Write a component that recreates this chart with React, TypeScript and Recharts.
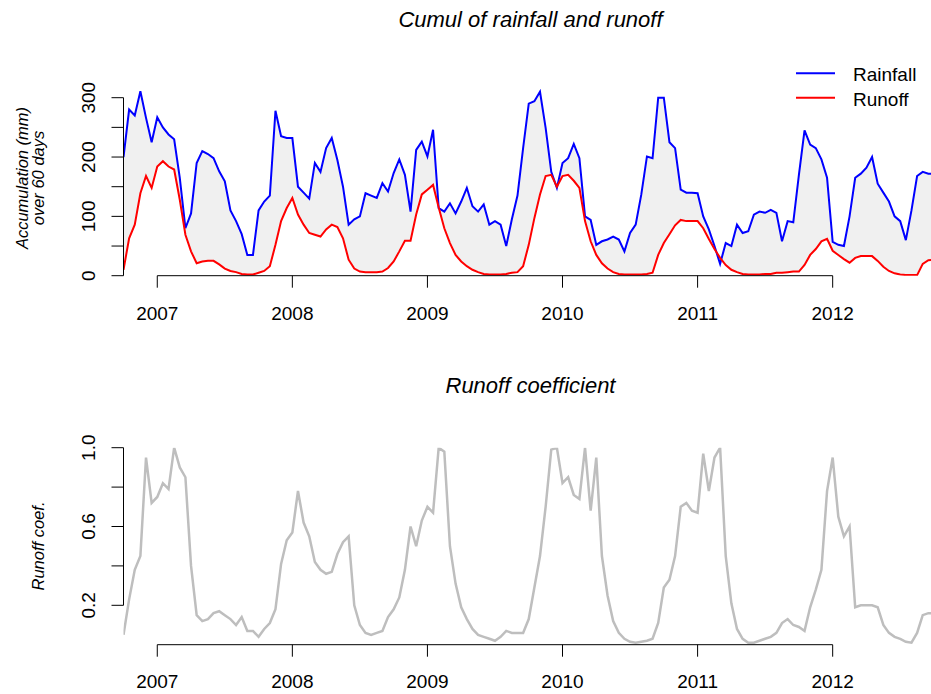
import React from 'react';
import { ComposedChart, LineChart, Line, Area, XAxis, YAxis, ReferenceLine } from 'recharts';

// ---- time grid (half-month steps starting Oct 2006) ----
const START_YEAR = 2006.75;
const STEPS_PER_YEAR = 24;
const X_DOMAIN: [number, number] = [2006.75, 2012.776];

// ---- tick labels ----
const yearTicks = [2007, 2008, 2009, 2010, 2011, 2012];
const accumTicks = [0, 50, 100, 150, 200, 250, 300];
const accumLabels = [0, 100, 200, 300];
const coefTicks = [0.2, 0.4, 0.6, 0.8, 1.0];
const coefLabels = [0.2, 0.6, 1.0];

// ---- series: 60-day accumulation (mm) ----
const rainfall = [
  200, 280, 270, 311, 266, 225, 267, 250, 238, 230,
  165, 80, 105, 190, 210, 205, 198, 176, 159, 110,
  92, 70, 35, 35, 110, 125, 135, 278, 235, 232,
  232, 150, 140, 130, 190, 175, 215, 232, 195, 150,
  86, 95, 100, 139, 135, 131, 156, 142, 173, 196,
  170, 108, 212, 226, 201, 246, 114, 108, 122, 105,
  125, 148, 117, 108, 120, 86, 92, 86, 50, 95,
  135, 215, 290, 294, 310, 249, 175, 148, 190, 198,
  222, 198, 100, 94, 52, 58, 61, 66, 61, 41,
  72, 86, 137, 201, 198, 300, 300, 225, 215, 145,
  140, 140, 139, 100, 78, 50, 20, 55, 50, 86,
  72, 75, 103, 108, 106, 111, 106, 58, 92, 90,
  170, 245, 221, 215, 196, 165, 57, 52, 50, 100,
  165, 172, 182, 200, 155, 140, 125, 100, 92, 60,
  110, 168, 175, 172, 172,
];

const runoff = [
  10, 63, 86, 139, 168, 148, 184, 193, 184, 179,
  128, 69, 41, 21, 24, 25, 25, 19, 12, 8,
  6, 3, 2, 2, 5, 8, 16, 52, 92, 114,
  131, 103, 86, 72, 69, 66, 78, 86, 82, 63,
  27, 12, 7, 6, 6, 6, 7, 13, 24, 41,
  59, 59, 103, 137, 145, 153, 115, 80, 55, 35,
  24, 16, 10, 6, 3, 2, 2, 2, 3, 5,
  6, 16, 52, 97, 137, 168, 170, 150, 168, 170,
  160, 148, 92, 58, 35, 21, 12, 6, 3, 2,
  2, 2, 2, 3, 5, 35, 55, 70, 85, 94,
  92, 92, 92, 80, 62, 45, 30, 18, 10, 6,
  3, 2, 2, 2, 3, 3, 5, 5, 6, 7,
  7, 18, 35, 45, 58, 62, 42, 35, 28, 22,
  30, 33, 33, 33, 25, 15, 8, 4, 2, 1,
  1, 1, 20, 26, 27,
];

// ---- series: runoff coefficient ----
const runoffCoef = [
  0.05, 0.23, 0.38, 0.45, 0.95, 0.72, 0.75, 0.82, 0.79, 1.0,
  0.9, 0.85, 0.4, 0.15, 0.12, 0.13, 0.16, 0.17, 0.15, 0.13,
  0.1, 0.14, 0.07, 0.07, 0.04, 0.08, 0.11, 0.18, 0.41, 0.53,
  0.57, 0.78, 0.62, 0.55, 0.42, 0.38, 0.36, 0.37, 0.46, 0.52,
  0.55, 0.2, 0.1, 0.06, 0.05, 0.06, 0.07, 0.14, 0.18, 0.24,
  0.38, 0.6, 0.5, 0.63, 0.7, 0.67, 1.0, 0.98, 0.5, 0.31,
  0.19, 0.13, 0.08, 0.05, 0.04, 0.03, 0.02, 0.04, 0.07, 0.06,
  0.06, 0.06, 0.13, 0.29, 0.45, 0.7, 0.99, 1.0, 0.82, 0.85,
  0.76, 0.74, 1.0, 0.68, 0.95, 0.45, 0.25, 0.12, 0.06, 0.03,
  0.015, 0.01, 0.015, 0.02, 0.03, 0.11, 0.29, 0.33, 0.45, 0.7,
  0.72, 0.68, 0.67, 0.97, 0.78, 0.95, 1.0, 0.45, 0.21, 0.08,
  0.03, 0.01, 0.01, 0.02, 0.03, 0.04, 0.06, 0.11, 0.13, 0.1,
  0.09, 0.07, 0.19, 0.28, 0.38, 0.78, 0.95, 0.65, 0.55, 0.6,
  0.19, 0.2, 0.2, 0.2, 0.19, 0.1, 0.06, 0.04, 0.03, 0.015,
  0.01, 0.06, 0.15, 0.16, 0.16,
];

const topData = rainfall.map((r, i) => ({
  t: START_YEAR + i / STEPS_PER_YEAR,
  rain: r,
  runoff: runoff[i],
}));
const bottomData = runoffCoef.map((c, i) => ({
  t: START_YEAR + i / STEPS_PER_YEAR,
  coef: c,
}));

const FONT = '"Liberation Sans", Arial, Helvetica, sans-serif';
const BLUE = '#0000ff';
const RED = '#ff0000';
const GREY = '#bebebe';

const makeXTick = (baseline: number) => (p: any) => (
  <text x={p.x} y={baseline} textAnchor="middle" fontSize={19} fontFamily={FONT} fill="#000">
    {p.payload.value}
  </text>
);

const makeYTick = (labels: number[], fmt: (v: number) => string) => (p: any) => {
  const v = p.payload.value;
  if (!labels.some((l) => Math.abs(l - v) < 1e-9)) return <g />;
  return (
    <text
      x={95}
      y={p.y}
      transform={`rotate(-90 95 ${p.y})`}
      textAnchor="middle"
      fontSize={19}
      fontFamily={FONT}
      fill="#000"
    >
      {fmt(v)}
    </text>
  );
};

export default function App() {
  return (
    <div
      style={{
        position: 'fixed',
        left: 0,
        top: 0,
        width: 931,
        height: 694,
        overflow: 'hidden',
        background: '#fff',
      }}
    >
      {/* Top panel */}
      <div style={{ position: 'absolute', left: 0, top: 0 }}>
        <ComposedChart
          width={945}
          height={340}
          data={topData}
          margin={{ top: 79.9, right: 7.5, bottom: 24.3, left: 63.5 }}
        >
          <XAxis
            type="number"
            dataKey="t"
            domain={X_DOMAIN}
            allowDataOverflow
            ticks={yearTicks}
            interval={0}
            height={40}
            axisLine={false}
            tickSize={12}
            tickLine={{ stroke: '#000', strokeWidth: 1 }}
            tick={makeXTick(320)}
          />
          <YAxis
            type="number"
            domain={[0, 330]}
            allowDataOverflow
            ticks={accumTicks}
            interval={0}
            width={60}
            axisLine={false}
            tickSize={12}
            tickLine={{ stroke: '#000', strokeWidth: 1 }}
            tick={makeYTick(accumLabels, (v) => String(v))}
          />
          <Area
            dataKey={(d: any) => [d.runoff, d.rain]}
            type="linear"
            stroke="none"
            fill="#f0f0f0"
            fillOpacity={1}
            isAnimationActive={false}
            dot={false}
            activeDot={false}
          />
          <Line
            dataKey="rain"
            type="linear"
            stroke={BLUE}
            strokeWidth={2}
            dot={false}
            activeDot={false}
            isAnimationActive={false}
          />
          <Line
            dataKey="runoff"
            type="linear"
            stroke={RED}
            strokeWidth={2}
            dot={false}
            activeDot={false}
            isAnimationActive={false}
          />
          <ReferenceLine
            segment={[{ x: yearTicks[0], y: 0 }, { x: yearTicks[yearTicks.length - 1], y: 0 }]}
            stroke="#000"
            strokeWidth={1}
            ifOverflow="visible"
          />
          <ReferenceLine
            segment={[{ x: X_DOMAIN[0], y: accumTicks[0] }, { x: X_DOMAIN[0], y: accumTicks[accumTicks.length - 1] }]}
            stroke="#000"
            strokeWidth={1}
            ifOverflow="visible"
          />
          <text x={530.5} y={26.5} textAnchor="middle" fontSize={22} fontStyle="italic" fontFamily={FONT} fill="#000">
            Cumul of rainfall and runoff
          </text>
          <text x={27.5} y={178} transform="rotate(-90 27.5 178)" textAnchor="middle" fontSize={16.5} fontStyle="italic" fontFamily={FONT} fill="#000">
            Accumulation (mm)
          </text>
          <text x={44} y={178} transform="rotate(-90 44 178)" textAnchor="middle" fontSize={16.5} fontStyle="italic" fontFamily={FONT} fill="#000">
            over 60 days
          </text>
          <line x1={796} y1={73.3} x2={835} y2={73.3} stroke={BLUE} strokeWidth={2} />
          <text x={853} y={81.2} fontSize={19} fontFamily={FONT} fill="#000">Rainfall</text>
          <line x1={796} y1={97.7} x2={835} y2={97.7} stroke={RED} strokeWidth={2} />
          <text x={853} y={105.8} fontSize={19} fontFamily={FONT} fill="#000">Runoff</text>
        </ComposedChart>
      </div>

      {/* Bottom panel */}
      <div style={{ position: 'absolute', left: 0, top: 360 }}>
        <LineChart
          width={945}
          height={334}
          data={bottomData}
          margin={{ top: 87.7, right: 7.5, bottom: 9.3, left: 63.5 }}
        >
          <XAxis
            type="number"
            dataKey="t"
            domain={X_DOMAIN}
            allowDataOverflow
            ticks={yearTicks}
            interval={0}
            height={40}
            axisLine={false}
            tickSize={12}
            tickLine={{ stroke: '#000', strokeWidth: 1 }}
            tick={makeXTick(328)}
          />
          <YAxis
            type="number"
            domain={[0, 1]}
            allowDataOverflow
            ticks={coefTicks}
            interval={0}
            width={60}
            axisLine={false}
            tickSize={12}
            tickLine={{ stroke: '#000', strokeWidth: 1 }}
            tick={makeYTick(coefLabels, (v) => v.toFixed(1))}
          />
          <Line
            dataKey="coef"
            type="linear"
            stroke={GREY}
            strokeWidth={2.5}
            dot={false}
            activeDot={false}
            isAnimationActive={false}
          />
          <ReferenceLine
            segment={[{ x: yearTicks[0], y: 0 }, { x: yearTicks[yearTicks.length - 1], y: 0 }]}
            stroke="#000"
            strokeWidth={1}
            ifOverflow="visible"
          />
          <ReferenceLine
            segment={[{ x: X_DOMAIN[0], y: coefTicks[0] }, { x: X_DOMAIN[0], y: coefTicks[coefTicks.length - 1] }]}
            stroke="#000"
            strokeWidth={1}
            ifOverflow="visible"
          />
          <text x={530.5} y={33} textAnchor="middle" fontSize={22} fontStyle="italic" fontFamily={FONT} fill="#000">
            Runoff coefficient
          </text>
          <text x={44} y={186} transform="rotate(-90 44 186)" textAnchor="middle" fontSize={16.5} fontStyle="italic" fontFamily={FONT} fill="#000">
            Runoff coef.
          </text>
        </LineChart>
      </div>
    </div>
  );
}
